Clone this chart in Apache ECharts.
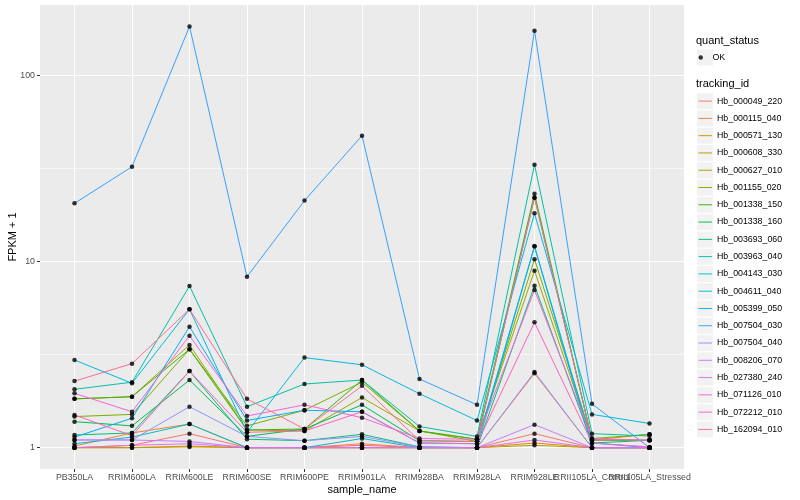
<!DOCTYPE html>
<html>
<head>
<meta charset="utf-8">
<script src="https://cdn.jsdelivr.net/npm/echarts@6/dist/echarts.min.js"></script>
<style>html,body{margin:0;padding:0;background:#fff}#c{width:800px;height:500px}</style>
</head>
<body>
<div id="c"></div>
<script>
// ---- data ----
const samples = ['PB350LA','RRIM600LA','RRIM600LE','RRIM600SE','RRIM600PE','RRIM901LA','RRIM928BA','RRIM928LA','RRIM928LE','RRII105LA_Control','RRII105LA_Stressed'];
const trackingIds = ['Hb_000049_220','Hb_000115_040','Hb_000571_130','Hb_000608_330','Hb_000627_010','Hb_001155_020','Hb_001338_150','Hb_001338_160','Hb_003693_060','Hb_003963_040','Hb_004143_030','Hb_004611_040','Hb_005399_050','Hb_007504_030','Hb_007504_040','Hb_008206_070','Hb_027380_240','Hb_071126_010','Hb_072212_010','Hb_162094_010'];
const yTicks = [1, 10, 100];
const yMinorTicks = [3.1623, 31.623];
const quantStatus = ['OK'];

const hb_000049_220 = [1.00, 1.03, 1.19, 1.00, 1.00, 1.05, 1.00, 1.00, 1.19, 1.00, 1.00];
const hb_000115_040 = [1.02, 1.20, 1.34, 1.00, 1.00, 1.03, 1.00, 1.00, 2.51, 1.00, 1.00];
const hb_000571_130 = [1.00, 1.00, 1.02, 1.00, 1.00, 1.00, 1.00, 1.00, 1.06, 1.00, 1.00];
const hb_000608_330 = [1.00, 1.00, 1.01, 1.00, 1.00, 1.00, 1.00, 1.00, 1.03, 1.00, 1.00];
const hb_000627_010 = [1.83, 1.88, 3.57, 1.245, 1.23, 1.86, 1.23, 1.11, 8.95, 1.10, 1.18];
const hb_001155_020 = [1.47, 1.51, 3.38, 1.31, 1.59, 2.25, 1.23, 1.08, 10.3, 1.12, 1.18];
const hb_001338_150 = [1.83, 1.88, 3.38, 1.245, 1.26, 2.31, 1.23, 1.11, 23.2, 1.10, 1.095];
const hb_001338_160 = [1.38, 1.31, 2.31, 1.15, 1.26, 1.70, 1.09, 1.08, 22.1, 1.10, 1.095];
const hb_003693_060 = [1.17, 1.20, 2.58, 1.11, 1.09, 1.18, 1.01, 1.00, 7.43, 1.06, 1.095];
const hb_003963_040 = [2.06, 2.25, 7.40, 1.66, 2.20, 2.31, 1.30, 1.15, 33.2, 1.19, 1.155];
const hb_004143_030 = [1.05, 1.14, 1.34, 1.00, 1.00, 1.12, 1.00, 1.00, 12.1, 1.00, 1.00];
const hb_004611_040 = [2.96, 2.22, 5.55, 1.21, 3.05, 2.79, 1.95, 1.40, 18.2, 1.51, 1.35];
const hb_005399_050 = [1.14, 1.44, 4.47, 1.40, 1.59, 1.56, 1.06, 1.05, 12.1, 1.06, 1.00];
const hb_007504_030 = [20.6, 32.4, 184, 8.3, 21.3, 47.6, 2.34, 1.70, 174.6, 1.72, 1.00];
const hb_007504_040 = [1.10, 1.10, 1.66, 1.15, 1.09, 1.15, 1.01, 1.00, 2.55, 1.00, 1.00];
const hb_008206_070 = [1.10, 1.10, 1.08, 1.00, 1.00, 1.00, 1.00, 1.00, 1.33, 1.00, 1.00];
const hb_027380_240 = [1.00, 1.03, 1.05, 1.00, 1.00, 1.00, 1.00, 1.00, 1.10, 1.00, 1.00];
const hb_071126_010 = [1.96, 1.56, 4.00, 1.48, 1.70, 1.45, 1.12, 1.11, 7.04, 1.12, 1.095];
const hb_072212_010 = [1.50, 1.16, 2.58, 1.21, 1.23, 1.56, 1.06, 1.05, 4.72, 1.06, 1.01];
const hb_162094_010 = [2.28, 2.83, 5.55, 1.83, 1.26, 2.15, 1.09, 1.08, 22.1, 1.10, 1.10];

const seriesValues = [hb_000049_220, hb_000115_040, hb_000571_130, hb_000608_330, hb_000627_010,
  hb_001155_020, hb_001338_150, hb_001338_160, hb_003693_060, hb_003963_040, hb_004143_030,
  hb_004611_040, hb_005399_050, hb_007504_030, hb_007504_040, hb_008206_070, hb_027380_240,
  hb_071126_010, hb_072212_010, hb_162094_010];

// ---- style ----
const palette = ['#F8766D','#EA8331','#D89000','#C09B00','#A3A500','#7CAE00','#39B600','#00BB4E','#00BF7D','#00C1A3','#00BFC4','#00BAE0','#00B0F6','#35A2FF','#9590FF','#C77CFF','#E76BF3','#FA62DB','#FF62BC','#FF6C91'];
const FONT = '"Liberation Sans", Arial, Helvetica, sans-serif';
const Y_MIN = 0.768, Y_MAX = 240;
const X_MIN = -0.6, X_MAX = 10.6;

const chart = echarts.init(document.getElementById('c'), null, {renderer: 'canvas'});

const lineSeries = trackingIds.map((id, i) => ({
  name: id,
  type: 'line',
  data: seriesValues[i].map((v, j) => [j, v]),
  showSymbol: false,
  symbol: 'none',
  lineStyle: {color: palette[i], width: 1},
  itemStyle: {color: palette[i]},
  z: 3,
  silent: true
}));

const pointData = [];
seriesValues.forEach(arr => arr.forEach((v, j) => pointData.push([j, v])));

// category positions, plus a blank end-of-panel entry so ECharts' max-label
// overlap rule drops that blank instead of one of the real labels
const catIdx = samples.map((_, i) => i);
const xTickVals = catIdx.concat([X_MAX]);

const keyBoxes = [{type: 'rect', shape: {x: 697, y: 49.5, width: 16, height: 16}, style: {fill: '#F2F2F2'}, silent: true, z: 0}]
  .concat(trackingIds.map((_, i) => ({
    type: 'rect', shape: {x: 697, y: 93.2 + i * 17.28, width: 16, height: 16},
    style: {fill: '#F2F2F2'}, silent: true, z: 0
  })));

chart.setOption({
  animation: false,
  textStyle: {fontFamily: FONT},
  grid: {left: 40, top: 5, width: 644, height: 464, show: true, backgroundColor: '#EBEBEB', borderWidth: 0,
    containLabel: false, outerBoundsMode: 'none'},
  title: [
    {text: 'quant_status', left: 696, top: 35.5, padding: 0, textStyle: {fontSize: 11, fontWeight: 'normal', color: '#000', fontFamily: FONT}},
    {text: 'tracking_id', left: 696, top: 78.5, padding: 0, textStyle: {fontSize: 11, fontWeight: 'normal', color: '#000', fontFamily: FONT}}
  ],
  legend: [
    {
      data: quantStatus.map(n => ({name: n, icon: 'circle', itemStyle: {color: '#000', borderWidth: 0}})),
      orient: 'vertical', left: 698.5, top: 49, itemWidth: 13.5, itemHeight: 4.5, padding: 0,
      selectedMode: false, textStyle: {fontSize: 8.8, lineHeight: 17, color: '#000', fontFamily: FONT}
    },
    {
      data: trackingIds.map((id, i) => ({name: id, icon: 'path://M0,0H14V1H0Z', itemStyle: {color: palette[i], borderWidth: 0}})),
      orient: 'vertical', left: 698.5, top: 92.6, itemWidth: 13.5, itemHeight: 17, itemGap: 0.28, padding: 0,
      selectedMode: false, textStyle: {fontSize: 8.8, lineHeight: 17, color: '#000', fontFamily: FONT}
    }
  ],
  xAxis: {
    type: 'value', min: X_MIN, max: X_MAX,
    axisLine: {show: false, onZero: false},
    axisTick: {show: true, length: 3, lineStyle: {color: '#333333', width: 1}, customValues: xTickVals},
    axisLabel: {customValues: xTickVals, hideOverlap: false, showMaxLabel: false,
      formatter: v => (Number.isInteger(v) && samples[v] !== undefined) ? samples[v] : '',
      color: '#4D4D4D', fontSize: 8.8, margin: 4, fontFamily: FONT},
    splitLine: {show: true, lineStyle: {color: '#FFFFFF', width: 1.07}},
    name: 'sample_name', nameLocation: 'middle', nameGap: 15, nameMoveOverlap: false,
    nameTextStyle: {color: '#000', fontSize: 11, fontFamily: FONT}
  },
  yAxis: [
    {
      type: 'log', logBase: 10, min: Y_MIN, max: Y_MAX,
      axisLine: {show: false, onZero: false},
      axisTick: {show: true, length: 3, lineStyle: {color: '#333333', width: 1}, customValues: yTicks},
      axisLabel: {customValues: yTicks, hideOverlap: false, formatter: v => String(Math.round(v)), color: '#4D4D4D', fontSize: 8.8, margin: 5, fontFamily: FONT},
      splitLine: {show: true, lineStyle: {color: '#FFFFFF', width: 1.07}},
      name: 'FPKM + 1', nameLocation: 'middle', nameGap: 22, nameMoveOverlap: false,
      nameTextStyle: {color: '#000', fontSize: 11, fontFamily: FONT}
    },
    {
      type: 'log', logBase: 10, min: Y_MIN, max: Y_MAX, position: 'right',
      axisLine: {show: false, onZero: false},
      axisTick: {show: false, customValues: yMinorTicks},
      axisLabel: {show: false, customValues: yMinorTicks},
      splitLine: {show: true, lineStyle: {color: '#FFFFFF', width: 0.55}}
    }
  ],
  graphic: keyBoxes,
  series: lineSeries.concat([{
    name: quantStatus[0],
    type: 'scatter',
    data: pointData,
    symbol: 'circle',
    symbolSize: 4.5,
    itemStyle: {color: '#000'},
    z: 5,
    silent: true
  }])
});
</script>
</body>
</html>
